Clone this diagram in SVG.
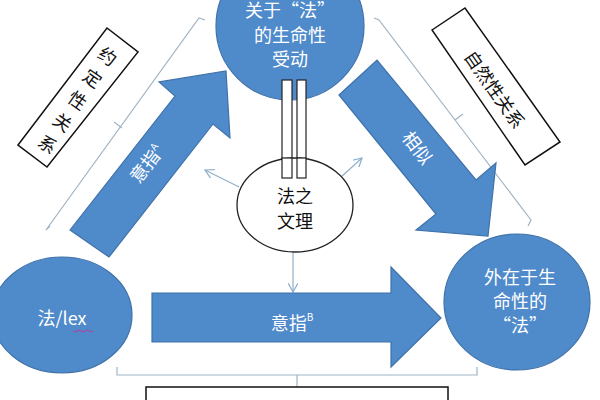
<svg xmlns="http://www.w3.org/2000/svg" width="600" height="400" viewBox="0 0 600 400">
<defs>
<style>
.b{fill:#4f8acb;stroke:#3f72a8;stroke-width:1.2}
.w{fill:#fff;font-family:"Noto Sans CJK SC","Liberation Sans",sans-serif;font-size:18px;text-anchor:middle}
.k{fill:#111;font-family:"Noto Sans CJK SC","Liberation Sans",sans-serif;font-size:18px;text-anchor:middle}
.br{fill:none;stroke:#9fb3c4;stroke-width:1.2}
.sa{fill:none;stroke:#8fb0cc;stroke-width:1.2;marker-end:url(#m)}
</style>
<marker id="m" viewBox="0 0 10 10" refX="9" refY="5" markerWidth="8" markerHeight="8" orient="auto"><path d="M0,0 L9,5 L0,10" fill="none" stroke="#8fb0cc" stroke-width="1.3"/></marker>
</defs>
<rect width="600" height="400" fill="#fff"/>
<g id="connectors">
<polyline class="br" points="50,226 46,230 199,18 205,20"/>
<line class="br" x1="122" y1="128" x2="114" y2="122"/>
<polyline class="br" points="374,18 379,20 531,220 528,226"/>
<line class="br" x1="455" y1="120" x2="463" y2="114"/>
<polyline class="br" points="117,367 117,375 477,375 477,367"/>
<line class="br" x1="297" y1="375" x2="297" y2="387"/>
<line class="sa" x1="239" y1="187" x2="205" y2="170"/>
<line class="sa" x1="341" y1="177" x2="362" y2="158"/>
<line class="sa" x1="293" y1="250" x2="293" y2="292"/>
<polygon id="arrowA" class="b" points="70,230 109,257 213,124 230,138 226,71 159,82 175,96"/>
<polygon id="arrowSim" class="b" points="339,95 377,60 476,180 496,163 488,236 416,230 436,214"/>
<polygon id="arrowB" class="b" points="152,293 391,293 391,267 441,318 391,367 391,342 152,342"/>
<text class="w" transform="translate(152,168) rotate(-52)">意指<tspan font-size="10" dy="-8">A</tspan></text>
<text class="w" transform="translate(412,152) rotate(52)">相似</text>
<text class="w" x="292" y="330">意指<tspan font-size="10" dy="-9">B</tspan></text>
</g>
<g id="n-top"><ellipse class="b" cx="290" cy="26" rx="74" ry="74"/>
<text class="w" x="290" y="17">关于“法”</text><text class="w" x="290" y="42">的生命性</text><text class="w" x="290" y="66">受动</text></g>
<g id="n-bars"><rect x="282" y="80" width="10" height="98" fill="#fff" stroke="#222" stroke-width="1.2"/><rect x="297" y="80" width="9" height="98" fill="#fff" stroke="#222" stroke-width="1.2"/></g>
<g id="n-center"><ellipse cx="295" cy="205" rx="58" ry="47" fill="#fff" stroke="#222" stroke-width="1.3"/>
<rect x="282" y="158" width="10" height="20" fill="#fff" stroke="#222" stroke-width="1.2"/><rect x="297" y="158" width="9" height="20" fill="#fff" stroke="#222" stroke-width="1.2"/>
<text class="k" x="295" y="203">法之</text><text class="k" x="295" y="228">文理</text></g>
<g id="n-lex"><ellipse class="b" cx="62" cy="315" rx="70" ry="58"/>
<text class="w" x="62" y="325" font-size="19">法/lex</text>
<path d="M73,331 q2,2 4,0 t4,0 t4,0 t4,0 t4,0" fill="none" stroke="#c03a9a" stroke-width="1"/></g>
<g id="n-right"><ellipse class="b" cx="517" cy="302" rx="73" ry="68"/>
<text class="w" x="520" y="284">外在于生</text><text class="w" x="520" y="308">命性的</text><text class="w" x="520" y="332">“法”</text></g>
<g id="n-leftbox"><polygon points="18,145 107,28 138,52 47,167" fill="#fff" stroke="#111" stroke-width="1.5"/>
<g class="k">
<text transform="translate(107,57) rotate(35)" dy="6">约</text>
<text transform="translate(92,79) rotate(35)" dy="6">定</text>
<text transform="translate(77,101) rotate(35)" dy="6">性</text>
<text transform="translate(62,123) rotate(35)" dy="6">关</text>
<text transform="translate(47,145) rotate(35)" dy="6">系</text>
</g></g>
<g id="n-rightbox"><polygon points="432,30 465,8 560,142 525,165" fill="#fff" stroke="#111" stroke-width="1.5"/>
<text class="k" transform="translate(494,90) rotate(55)" dy="6">自然性关系</text></g>
<g id="n-bottom"><rect x="146" y="387" width="302" height="30" fill="#fff" stroke="#111" stroke-width="1.5"/></g>
</svg>
